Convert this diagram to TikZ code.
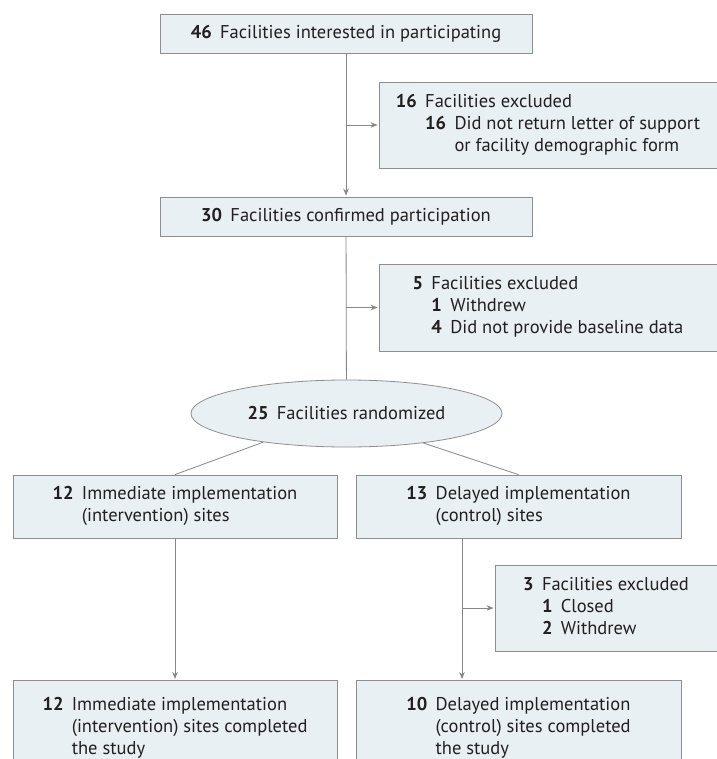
\documentclass[tikz,border=0pt]{standalone}
\usepackage{fontspec}
\setmainfont{PT Sans}
\usetikzlibrary{arrows.meta,shapes.geometric}

\definecolor{boxfill}{HTML}{E8F0F3}
\definecolor{boxline}{HTML}{8E8E8E}
\definecolor{linkgray}{HTML}{878787}
\definecolor{inkgray}{HTML}{231F20}

% count in bold, text hanging after it
\newcommand{\hangcount}[2]{\begin{tabular}[t]{@{}l@{\hspace{.45em}}l@{}}\textbf{#1} & #2\end{tabular}}

\begin{document}
\begin{tikzpicture}[x=1pt, y=1pt,
    every node/.style={font=\fontsize{18.5}{22}\selectfont, text=inkgray},
    flowbox/.style={draw=boxline, fill=boxfill, line width=0.8pt, inner sep=0pt},
    arr/.style={-{Stealth[length=7pt, width=5.5pt]}, linkgray, line width=0.8pt, shorten >=1pt},
    link/.style={linkgray, line width=0.8pt}]
        \useasboundingbox[fill=white] (0,0) rectangle (716,-759);

        % Enrollment
        \node[flowbox, minimum width=372pt, minimum height=39pt] (interest) at (346,-33.5) {\textbf{46}\hspace{.45em}Facilities interested in participating};
        \node[flowbox, minimum width=338pt, minimum height=86pt] (exclA) at (548,-125) {\hangcount{16}{Facilities excluded\\ & \hangcount{16}{Did not return letter of support\\ & or facility demographic form}}};
        \node[flowbox, minimum width=372pt, minimum height=39pt] (confirm) at (346,-216.5) {\textbf{30}\hspace{.45em}Facilities confirmed participation};
        \node[flowbox, minimum width=338pt, minimum height=87pt] (exclB) at (548,-307.5) {\hangcount{5}{Facilities excluded\\ & \hangcount{1}{Withdrew}\\ & \hangcount{4}{Did not provide baseline data}}};

        % Randomization
        \node[flowbox, ellipse, minimum width=311pt, minimum height=67pt] (rand) at (346.5,-413.5) {\textbf{25}\hspace{.45em}Facilities randomized};

        % Arms
        \node[flowbox, minimum width=324pt, minimum height=63pt] (immed) at (175,-506.5) {\hangcount{12}{Immediate implementation\\ & (intervention) sites}};
        \node[flowbox, minimum width=325pt, minimum height=63pt] (delay) at (518.5,-506.5) {\hangcount{13}{Delayed implementation\\ & (control) sites}};
        \node[flowbox, minimum width=222pt, minimum height=86pt] (exclC) at (606,-608) {\hangcount{3}{Facilities excluded\\ & \hangcount{1}{Closed}\\ & \hangcount{2}{Withdrew}}};

        % Completed
        \node[flowbox, anchor=north, minimum width=324pt, minimum height=95pt, inner ysep=6pt] (immedDone) at (175,-680) {\hangcount{12}{Immediate implementation\\ & (intervention) sites completed\\ & the study}};
        \node[flowbox, anchor=north, minimum width=325pt, minimum height=95pt, inner ysep=6pt] (delayDone) at (518.5,-680) {\hangcount{10}{Delayed implementation\\ & (control) sites completed\\ & the study}};

        % Links
        \draw[arr] (interest) -- (confirm);
        \draw[arr] (interest.south |- exclA.west) -- (exclA.west);
        \draw[link] (confirm) -- (rand);
        \draw[arr] (confirm.south |- exclB.west) -- (exclB.west);
        \draw[link] (rand.199.3) -- (immed.north);
        \draw[link] (rand.339.9) -- (delay.north);
        \draw[arr] (immed) -- (immedDone);
        \coordinate (delayTap) at ([xshift=-56.5pt]delay.south);
        \draw[arr] (delayTap) -- (delayTap |- delayDone.north);
        \draw[arr] (delayTap |- exclC.west) -- (exclC.west);
    \end{tikzpicture}
\end{document}
